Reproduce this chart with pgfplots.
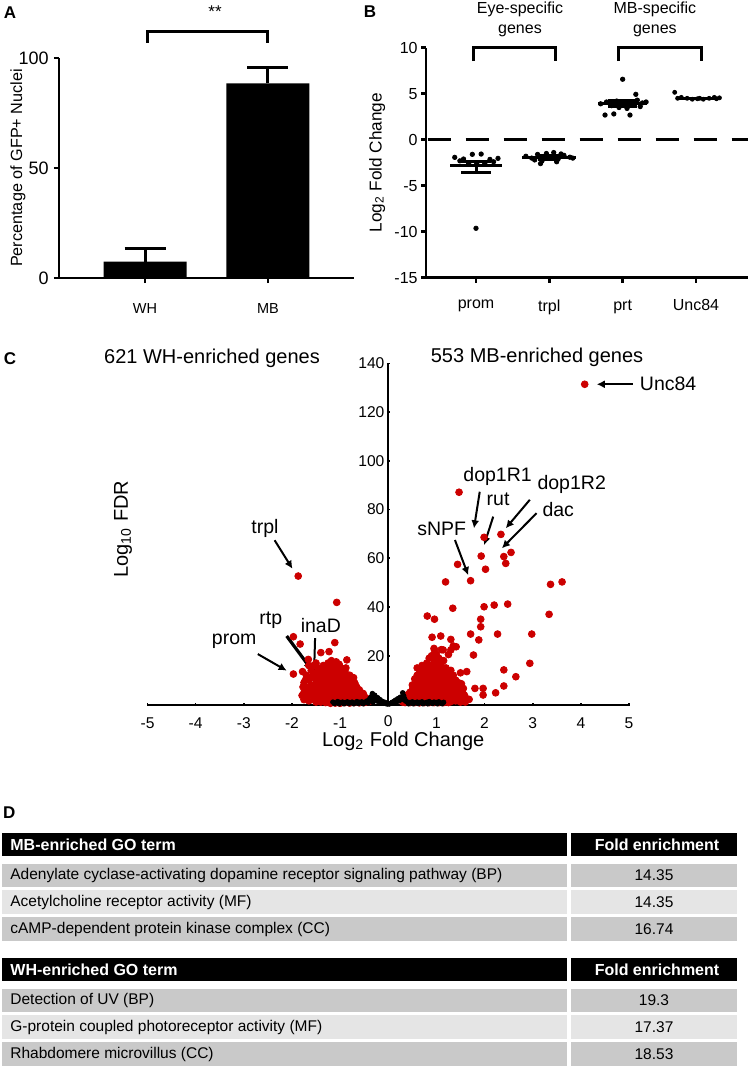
\documentclass[border=0pt]{standalone}
\usepackage{fontspec}
\setmainfont{Liberation Sans}
\usepackage{pgfplots}
\pgfplotsset{compat=1.18}
\usetikzlibrary{arrows.meta}
\definecolor{cred}{RGB}{204,0,0}
\definecolor{rowdark}{RGB}{201,201,201}
\definecolor{rowlight}{RGB}{229,229,229}
\newcommand\fs[1]{\fontsize{#1}{#1}\selectfont}
\newcommand\trow[5]{%
  \fill[#3] (2,#1) rectangle (567,#2);
  \fill[#3] (571,#1) rectangle (737,#2);
  \node[anchor=west,font=\fs{7.75},inner xsep=0pt] at (10,{(#1+#2)/2}) {#4};
  \node[font=\fs{7.75}] at (654,{(#1+#2)/2}) {#5};}
\newcommand\thead[3]{%
  \fill[black] (2,#1) rectangle (567,#2);
  \fill[black] (571,#1) rectangle (737,#2);
  \node[anchor=west,text=white,font=\bfseries\fs{8},inner xsep=0pt] at (10,{(#1+#2)/2}) {#3};
  \node[text=white,font=\bfseries\fs{8}] at (657,{(#1+#2)/2}) {Fold enrichment};}
\begin{document}
\begin{tikzpicture}
\useasboundingbox (0,0) rectangle (374.5pt,-534.5pt);

% ---------------- Panel A ----------------
\begin{axis}[
  at={(29.5pt,-139pt)}, anchor=south west, scale only axis,
  width=147.5pt, height=110pt,
  xmin=-0.7, xmax=1.7, ymin=0, ymax=100,
  axis x line=bottom, axis y line=left, axis line style={line width=1.3pt,-},
  xtick={0,1}, xticklabels={WH,MB}, ytick={0,50,100},
  tick align=outside, major tick length=2.5pt, tick style={line width=1.3pt,black},
  xticklabel style={font=\fs{7.25}, yshift=-6.5pt},
  yticklabel style={font=\fs{9}, inner sep=0.5pt, xshift=-2pt},
  ylabel={Percentage of GFP+ Nuclei},
  ylabel style={font=\fs{8.1}, at={(axis description cs:-0.139,0.5)}, anchor=center},
  clip=false, /pgf/number format/assume math mode=true,
]
\addplot[ybar, bar width=0.675, fill=black, draw=none] coordinates {(0,7.5) (1,88.5)};
\addplot[black, line width=1.5pt, mark=none] coordinates {(0,7.5) (0,13.2)};
\addplot[black, line width=1.5pt, mark=none] coordinates {(-0.167,13.2) (0.167,13.2)};
\addplot[black, line width=1.5pt, mark=none] coordinates {(1,88.5) (1,95.8)};
\addplot[black, line width=1.5pt, mark=none] coordinates {(0.833,95.8) (1.167,95.8)};
\addplot[black, line width=1.5pt, mark=none] coordinates {(0.02,107) (0.02,112) (1,112) (1,107)};
\node[font=\fs{8.5}] at (axis cs:0.57,121) {**};
\end{axis}

% ---------------- Panel B ----------------
\begin{axis}[
  at={(213pt,-138.85pt)}, anchor=south west, scale only axis,
  width=161pt, height=115pt,
  xmin=-0.682, xmax=3.71, ymin=-15, ymax=10,
  axis x line=bottom, axis y line=left, axis line style={line width=1.3pt,-},
  xtick={0,1,2,3}, xticklabels={prom,trpl,prt,Unc84}, ytick={-15,-10,-5,0,5,10},
  tick align=outside, major tick length=2.5pt, tick style={line width=1.3pt,black},
  xticklabel style={font=\fs{8}, yshift=-5pt},
  yticklabel style={font=\fs{8}, inner sep=1.5pt},
  ylabel={Log\textsubscript{2} Fold Change},
  ylabel style={font=\fs{8.6}, at={(axis description cs:-0.152,0.5)}, anchor=center},
  clip=false, /pgf/number format/assume math mode=true,
]
\addplot[black, line width=1.3pt, mark=none, dash pattern=on 11.5pt off 7.5pt] coordinates {(-0.66,0) (3.71,0)};
% prom
\addplot[only marks, mark=*, mark size=1.1pt, black] coordinates {
 (-0.29,-1.92) (-0.17,-2.1) (-0.05,-1.59) (0.07,-1.56) (0.19,-2.14) (0.3,-2.03)
 (-0.1,-2.57) (0.01,-2.57) (0.12,-2.57) (-0.22,-2.3) (0.24,-2.4) (0.0,-9.63)};
\addplot[black, line width=1.5pt, mark=none] coordinates {(-0.35,-2.83) (0.35,-2.83)};
\addplot[black, line width=1.5pt, mark=none] coordinates {(0,-3.59) (0,-2.39)};
\addplot[black, line width=1.5pt, mark=none] coordinates {(-0.2,-3.59) (0.2,-3.59)};
\addplot[black, line width=1.5pt, mark=none] coordinates {(-0.2,-2.39) (0.2,-2.39)};
% trpl
\addplot[only marks, mark=*, mark size=1.1pt, black] coordinates {
 (0.68,-1.8) (0.76,-2.0) (0.84,-1.6) (0.9,-2.3) (0.96,-1.5) (1.0,-2.0) (1.06,-1.4)
 (1.12,-2.1) (1.2,-1.7) (1.28,-1.9) (0.88,-2.6) (1.1,-2.4) (1.32,-2.0) (0.8,-2.2) (1.16,-1.55)};
\addplot[black, line width=1.5pt, mark=none] coordinates {(0.63,-1.95) (1.37,-1.95)};
\addplot[black, line width=1.5pt, mark=none] coordinates {(0.85,-2.15) (1.15,-2.15)};
\addplot[black, line width=1.5pt, mark=none] coordinates {(0.85,-1.75) (1.15,-1.75)};
% prt
\addplot[only marks, mark=*, mark size=1.1pt, black] coordinates {
 (1.7,3.9) (1.78,4.1) (1.85,3.7) (1.92,4.2) (2.0,6.57) (2.18,4.93) (2.12,3.8) (2.2,4.3)
 (2.27,4.0) (1.76,2.68) (1.88,2.8) (2.1,2.68) (1.95,3.5) (2.06,3.4) (2.32,4.1) (2.24,3.6)};
\addplot[black, line width=1.5pt, mark=none] coordinates {(1.67,3.96) (2.33,3.96)};
\addplot[black, line width=1.5pt, mark=none] coordinates {(1.8,3.6) (2.2,3.6)};
\addplot[black, line width=1.5pt, mark=none] coordinates {(1.8,4.3) (2.2,4.3)};
% Unc84
\addplot[only marks, mark=*, mark size=1pt, black] coordinates {
 (2.71,5.15) (2.8,4.6) (2.88,4.5) (2.95,4.4) (3.02,4.45) (3.1,4.4) (3.18,4.5)
 (3.25,4.6) (3.32,4.55) (2.75,4.5) (3.05,4.5) (3.28,4.45)};
\addplot[black, line width=1.5pt, mark=none] coordinates {(2.73,4.5) (3.27,4.5)};
% brackets
\addplot[black, line width=1.5pt, mark=none] coordinates {(-0.03,8.55) (-0.03,10) (1.08,10) (1.08,8.55)};
\addplot[black, line width=1.5pt, mark=none] coordinates {(1.95,8.55) (1.95,10) (3.07,10) (3.07,8.55)};
\node[font=\fs{8}, align=center] at (axis cs:0.6,13.09) {Eye-specific\\[2pt]genes};
\node[font=\fs{8}, align=center] at (axis cs:2.44,13.09) {MB-specific\\[2pt]genes};
\end{axis}

% ---------------- Panel C ----------------
\begin{axis}[
  at={(73.75pt,-352.25pt)}, anchor=south west, scale only axis,
  width=240.75pt, height=170.6pt,
  xmin=-5, xmax=5, ymin=0, ymax=140,
  axis lines=middle, axis line style={line width=1pt,-},
  xtick={-5,-4,...,5}, ytick={20,40,...,140},
  tick align=center, major tick length=1.5pt, tick style={line width=0.8pt,black},
  xticklabel style={font=\fs{7.8}, yshift=-2.5pt},
  yticklabel style={font=\fs{7.8}, inner sep=1pt},
  xlabel={Log\textsubscript{2} Fold Change},
  xlabel style={font=\fs{10}, at={(axis description cs:0.531,-0.109)}, anchor=center},
  ylabel={Log\textsubscript{10} FDR},
  ylabel style={font=\fs{10}, at={(axis description cs:-0.051,0.514)}, anchor=center, rotate=90},
  clip=false, /pgf/number format/assume math mode=true,
]
% WH-enriched (left) red points
\addplot[only marks, mark=*, mark size=1.7pt, color=cred] coordinates {
 (-1.87,52.7) (-1.07,41.9) (-1.97,27.8) (-1.83,24.8) (-1.11,25.4) (-1.97,12.5) (-1.78,13.5)
 (-1.66,18.5) (-1.40,21.3) (-1.23,21.7) (-0.86,18.3) (-1.77,7.2) (-1.79,3.7)
 (-1.75,5) (-1.75,2) (-1.75,9)
 (-1.7,3.5) (-1.7,7) (-1.7,12)
 (-1.65,1.5) (-1.65,10) (-1.65,16)
 (-1.6,4) (-1.6,8) (-1.6,14)
 (-1.55,2) (-1.55,6) (-1.55,11) (-1.55,16)
 (-1.5,1) (-1.5,3.5) (-1.5,9) (-1.5,13) (-1.5,17)
 (-1.45,2.5) (-1.45,5) (-1.45,7.5) (-1.45,12) (-1.45,15)
 (-1.4,1) (-1.4,4) (-1.4,6) (-1.4,10) (-1.4,14)
 (-1.35,2) (-1.35,3) (-1.35,8) (-1.35,11) (-1.35,13) (-1.35,16)
 (-1.3,0.8) (-1.3,5) (-1.3,7) (-1.3,9.5) (-1.3,12) (-1.3,15)
 (-1.25,1.5) (-1.25,3.5) (-1.25,6) (-1.25,10) (-1.25,13) (-1.25,17)
 (-1.2,0.5) (-1.2,2.5) (-1.2,4.5) (-1.2,8) (-1.2,11) (-1.2,14) (-1.2,16)
 (-1.15,1.2) (-1.15,3) (-1.15,5.5) (-1.15,7) (-1.15,9) (-1.15,12) (-1.15,15)
 (-1.1,0.6) (-1.1,2) (-1.1,4) (-1.1,6.5) (-1.1,8.5) (-1.1,10.5) (-1.1,13) (-1.1,16.5)
 (-1.05,1) (-1.05,3) (-1.05,5) (-1.05,7.5) (-1.05,9.5) (-1.05,12) (-1.05,14.5)
 (-1.0,0.5) (-1.0,2.2) (-1.0,4) (-1.0,6) (-1.0,8) (-1.0,11) (-1.0,13) (-1.0,15)
 (-0.95,1.5) (-0.95,3.5) (-0.95,5) (-0.95,7) (-0.95,9) (-0.95,12)
 (-0.9,0.8) (-0.9,2.5) (-0.9,4.5) (-0.9,6.5) (-0.9,10) (-0.9,13.5)
 (-0.85,1.2) (-0.85,3) (-0.85,5.5) (-0.85,8) (-0.85,11)
 (-0.8,0.6) (-0.8,2) (-0.8,4) (-0.8,6) (-0.8,9) (-0.8,12)
 (-0.75,1.5) (-0.75,3.5) (-0.75,5) (-0.75,7.5) (-0.75,10)
 (-0.7,0.8) (-0.7,2.5) (-0.7,4.5) (-0.7,6.5) (-0.7,9)
 (-0.65,1.2) (-0.65,3) (-0.65,5) (-0.65,7)
 (-0.6,0.7) (-0.6,2) (-0.6,4) (-0.6,6)
 (-0.55,1.5) (-0.55,3) (-0.55,4.5)
 (-0.5,0.8) (-0.5,2.2) (-0.5,3.5)
 (-0.45,1) (-0.45,2.5) (-0.4,1.2)
 (-1.62,6) (-1.58,11.5) (-1.52,4.5) (-1.48,7) (-1.48,11) (-1.42,8) (-1.42,12.5) (-1.38,5.5)
 (-1.38,9) (-1.32,2.5) (-1.32,11) (-1.28,8) (-1.28,13.5) (-1.22,6) (-1.22,9.5) (-1.22,12.5)
 (-1.18,3.5) (-1.18,10.5) (-1.18,18) (-1.12,5) (-1.12,11.5) (-1.12,14) (-1.08,3) (-1.08,7.5)
 (-1.08,17.5) (-1.02,5.5) (-1.02,9.5) (-1.02,16.5) (-0.98,3) (-0.98,10) (-0.98,13.5)
 (-0.92,5.5) (-0.92,8) (-0.92,11.5) (-0.88,3.5) (-0.88,9) (-0.88,15) (-0.82,5) (-0.82,7.5)
 (-0.82,10.5) (-0.78,3) (-0.78,8) (-0.72,5.5) (-0.72,11) (-0.68,3.5) (-0.68,8) (-0.62,5)
 (-0.58,3) (-0.52,4.5) (-1.68,5.5) (-1.72,10)};
% MB-enriched (right) red points
\addplot[only marks, mark=*, mark size=1.7pt, color=cred] coordinates {
 (4.08,131.4) (1.47,87.1) (1.99,68.6) (2.34,69.8) (1.93,60.9) (2.40,60.7) (2.55,62.4)
 (2.02,55.5) (2.44,57.9) (1.44,57.5) (1.71,50.8) (1.19,50.3) (3.37,49.3) (3.61,50.3)
 (1.34,39.5) (1.99,40.1) (2.20,40.8) (2.48,41.2) (3.34,37.0) (0.81,36.3) (0.96,35.0)
 (1.92,35.0) (1.92,31.9) (1.71,28.9) (2.27,28.9) (2.98,28.9) (0.91,27.6) (1.09,28.1)
 (1.30,26.7) (1.88,26.5) (0.96,22.4) (1.14,22.4) (1.30,22.4) (1.41,23.7) (1.77,20.3)
 (2.94,16.9) (2.40,14.2) (2.65,11.4) (2.40,7.6) (2.23,4.8) (1.97,3.9) (1.58,3.9)
 (1.56,6.6) (1.80,6.6) (1.97,6.6) (1.63,13.5) (1.49,8.0) (1.68,2.1)
 (0.3,1) (0.3,2.5) (0.35,0.8) (0.35,3) (0.4,1.5) (0.4,4)
 (0.45,0.8) (0.45,2.5) (0.45,5)
 (0.5,1.2) (0.5,3.5) (0.5,6) (0.5,8)
 (0.55,0.8) (0.55,2.5) (0.55,4.5) (0.55,7) (0.55,10.5)
 (0.6,1.5) (0.6,3.5) (0.6,6) (0.6,8.5) (0.6,12) (0.6,15)
 (0.65,0.7) (0.65,2.5) (0.65,5) (0.65,7.5) (0.65,10) (0.65,13)
 (0.7,1.2) (0.7,3.5) (0.7,6) (0.7,9) (0.7,11.5) (0.7,16)
 (0.75,0.8) (0.75,2.5) (0.75,5) (0.75,7) (0.75,10) (0.75,14)
 (0.8,1.5) (0.8,4) (0.8,6.5) (0.8,8.5) (0.8,12) (0.8,15) (0.8,17)
 (0.85,0.8) (0.85,3) (0.85,5.5) (0.85,9.5) (0.85,13) (0.85,19)
 (0.9,1.2) (0.9,2.5) (0.9,4.5) (0.9,7) (0.9,11) (0.9,14) (0.9,16) (0.9,20)
 (0.95,0.8) (0.95,3.5) (0.95,6) (0.95,8.5) (0.95,12) (0.95,15) (0.95,18) (0.95,23)
 (1.0,1.5) (1.0,3) (1.0,5) (1.0,7.5) (1.0,10) (1.0,13.5) (1.0,17) (1.0,20.5)
 (1.05,0.8) (1.05,2.5) (1.05,4.5) (1.05,9) (1.05,11.5) (1.05,14) (1.05,19)
 (1.1,1.2) (1.1,3.5) (1.1,6) (1.1,8) (1.1,12.5) (1.1,16) (1.1,22.5)
 (1.15,0.8) (1.15,2.5) (1.15,5) (1.15,7) (1.15,10) (1.15,13) (1.15,18)
 (1.2,1.5) (1.2,3.5) (1.2,6) (1.2,9) (1.2,11) (1.2,15)
 (1.25,0.8) (1.25,2.5) (1.25,4.5) (1.25,8) (1.25,12) (1.25,20.5)
 (1.3,1.2) (1.3,3.5) (1.3,6.5) (1.3,10) (1.3,14)
 (1.35,2) (1.35,5) (1.35,8) (1.35,12) (1.35,24)
 (1.4,1.5) (1.4,4) (1.4,7) (1.4,10)
 (1.45,2.5) (1.45,5.5) (1.45,9)
 (1.5,1) (1.5,3.5) (1.5,6) (1.5,13)
 (1.55,2) (1.55,4.5) (1.6,1) (1.6,3)
 (0.48,4) (0.52,7) (0.58,5) (0.62,9.5) (0.68,4) (0.68,12) (0.72,7.5) (0.72,14) (0.78,3.5)
 (0.78,11.5) (0.82,5.5) (0.82,10) (0.82,13.5) (0.88,8) (0.88,15.5) (0.92,5.5) (0.92,12.5)
 (0.98,10.5) (0.98,16) (1.02,6) (1.02,12) (1.02,18.5) (1.08,4) (1.08,10) (1.08,14.5)
 (1.12,7) (1.12,18) (1.18,4) (1.18,11.5) (1.22,8) (1.22,13) (1.28,6) (1.28,10.5)
 (1.32,2.5) (1.32,8.5) (1.38,6.5) (1.42,3) (1.48,5) (1.52,8.5)};
% not significant (black)
\addplot[only marks, mark=*, mark size=1.15pt, black] coordinates {
 (-1.15,1) (-1.1,0.6) (-1.05,1.2) (-1.0,0.8) (-0.95,1.0) (-0.9,0.7) (-0.85,1.1) (-0.8,0.8)
 (-0.75,1.0) (-0.7,0.6) (-0.65,1.2) (-0.6,0.9) (-0.55,1.1) (-0.5,0.7) (-0.45,1.4) (-0.4,1.8)
 (-0.38,2.6) (-0.35,3.3) (-0.33,4.5) (-0.3,2.2) (-0.28,3.8) (-0.25,1.5) (-0.22,2.8) (-0.2,1.2)
 (-0.17,2.0) (-0.15,0.8) (-0.12,1.3) (-0.1,0.5) (-0.07,0.9) (-0.05,0.4) (-0.02,0.2)
 (-1.12,0.4) (-1.02,0.3) (-0.92,0.3) (-0.82,0.4) (-0.72,0.3) (-0.62,0.4) (-0.52,0.3) (-0.42,0.6) (-0.32,1.0)
 (0.02,0.2) (0.05,0.5) (0.08,0.9) (0.1,0.6) (0.12,1.3) (0.15,1.8) (0.17,1.0) (0.2,2.4) (0.22,1.5)
 (0.25,3.0) (0.27,2.0) (0.3,4.8) (0.32,3.6) (0.34,2.4) (0.36,1.4) (0.4,1.0) (0.45,0.8) (0.5,1.1)
 (0.55,0.7) (0.6,1.0) (0.65,0.8) (0.7,1.1) (0.75,0.6) (0.8,0.9) (0.85,1.2) (0.9,0.7) (0.95,1.0)
 (1.0,0.8) (1.05,1.1) (1.1,0.6) (1.15,0.9) (0.42,0.3) (0.52,0.3) (0.62,0.4) (0.72,0.3) (0.82,0.3)
 (0.92,0.4) (1.02,0.3) (1.12,0.3)};
% zero tick label (hidden by the middle axes)
\node[font=\fs{7.8}] at ([yshift=-8.4pt]axis cs:0,0) {0};
% titles
\node[font=\fs{10}] at (axis cs:-3.66,142.2) {621 WH-enriched genes};
\node[font=\fs{10}] at (axis cs:3.09,142.6) {553 MB-enriched genes};
% annotations
\begin{scope}[font=\fs{9.75}]
\node at (axis cs:-2.56,72.3) {trpl};
\node at (axis cs:-3.2,25.8) {prom};
\node at (axis cs:-2.44,34.4) {rtp};
\node at (axis cs:-1.40,32.2) {inaD};
\node at (axis cs:1.11,71.9) {sNPF};
\node at (axis cs:2.27,93.5) {dop1R1};
\node at (axis cs:2.28,84.2) {rut};
\node at (axis cs:3.81,90.1) {dop1R2};
\node at (axis cs:3.53,80.1) {dac};
\node[anchor=west] at (axis cs:5.08,131.4) {Unc84};
\end{scope}
\begin{scope}[line width=1pt, -{Latex[length=4pt,width=4pt]}]
\draw (axis cs:-2.36,67.4) -- (axis cs:-1.99,55.7);
\draw (axis cs:-2.71,20.7) -- (axis cs:-2.11,13.9);
\draw[line width=1.6pt] (axis cs:-2.11,28.1) -- (axis cs:-1.59,14.2);
\draw (axis cs:-1.52,27.2) -- (axis cs:-1.54,13.5);
\draw (axis cs:1.385,67.5) -- (axis cs:1.66,53.1);
\draw (axis cs:1.90,87.3) -- (axis cs:1.78,72.3);
\draw (axis cs:2.18,77.1) -- (axis cs:1.99,65.4);
\draw (axis cs:2.94,84) -- (axis cs:2.44,72.3);
\draw (axis cs:3.08,78.5) -- (axis cs:2.36,64.1);
\draw (axis cs:5.08,131.4) -- (axis cs:4.33,131.4);
\end{scope}
\end{axis}

% ---------------- Panel labels ----------------
\node[font=\bfseries\fs{8.5}] at (5pt,-6.5pt) {A};
\node[font=\bfseries\fs{8.5}] at (185pt,-6pt) {B};
\node[font=\bfseries\fs{8.5}] at (5pt,-179.5pt) {C};
\node[font=\bfseries\fs{8.5}] at (4.65pt,-406.5pt) {D};

% ---------------- Panel D table ----------------
\begin{scope}[x=0.5pt,y=-0.5pt]
\thead{833}{856}{MB-enriched GO term}
\trow{864}{887}{rowdark}{Adenylate cyclase-activating dopamine receptor signaling pathway (BP)}{14.35}
\trow{890}{914}{rowlight}{Acetylcholine receptor activity (MF)}{14.35}
\trow{917}{941}{rowdark}{cAMP-dependent protein kinase complex (CC)}{16.74}
\thead{958}{981}{WH-enriched GO term}
\trow{989}{1012}{rowdark}{Detection of UV (BP)}{19.3}
\trow{1015}{1039}{rowlight}{G-protein coupled photoreceptor activity (MF)}{17.37}
\trow{1042}{1066}{rowdark}{Rhabdomere microvillus (CC)}{18.53}
\end{scope}
\end{tikzpicture}
\end{document}
